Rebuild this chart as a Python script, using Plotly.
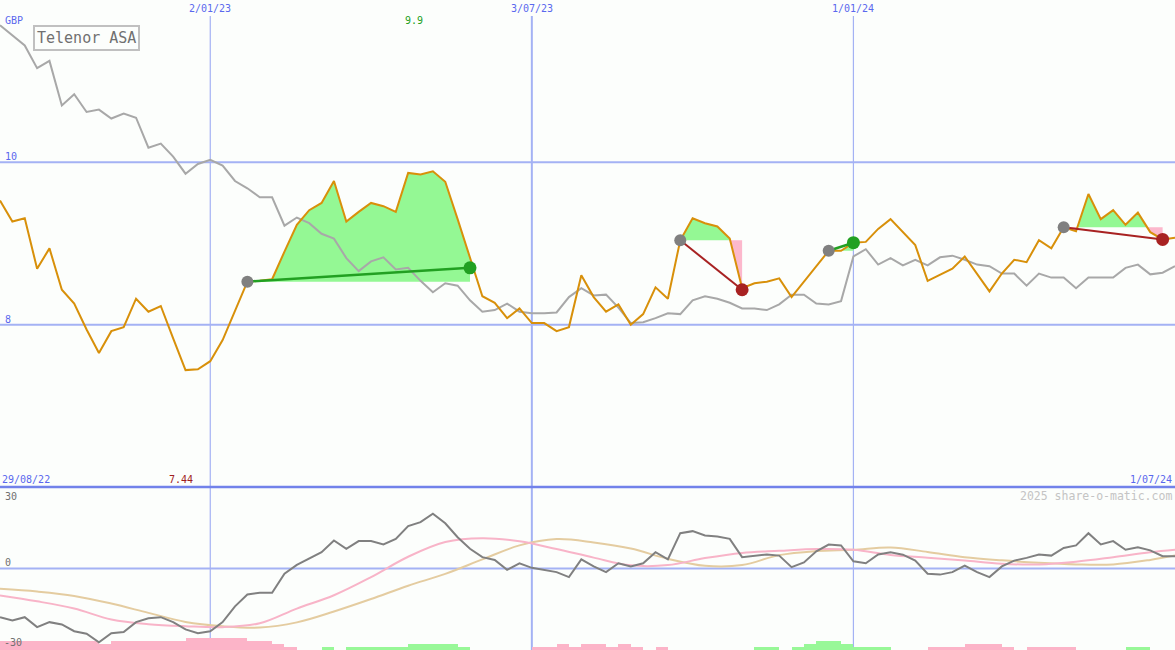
import pandas as pd
import plotly.graph_objects as go

# ---------------- data ----------------
start_date = "2022-09-05"
n_weeks = 96
dates = pd.date_range(start_date, periods=n_weeks, freq="7D")

price = [9.53, 9.27, 9.31, 8.69, 8.94, 8.43, 8.26, 7.94, 7.65, 7.92,
         7.97, 8.32, 8.16, 8.23, 7.83, 7.44, 7.45, 7.55, 7.81, 8.16,
         8.53, 8.54, 8.56, 8.90, 9.23, 9.41, 9.50, 9.77, 9.27, 9.39,
         9.50, 9.46, 9.39, 9.87, 9.85, 9.89, 9.76, 9.30, 8.82, 8.35,
         8.27, 8.08, 8.20, 8.02, 8.02, 7.92, 7.97, 8.61, 8.34, 8.16,
         8.25, 8.00, 8.13, 8.46, 8.32, 9.04, 9.31, 9.25, 9.21, 9.06,
         8.45, 8.51, 8.53, 8.57, 8.34, 8.53, 8.73, 8.91, 8.91, 9.01,
         9.02, 9.18, 9.30, 9.14, 8.98, 8.54, 8.62, 8.69, 8.84, 8.62,
         8.41, 8.63, 8.80, 8.77, 9.04, 8.94, 9.20, 9.15, 9.61, 9.30,
         9.41, 9.23, 9.38, 9.14, 9.05, 9.07]

relative = [11.69, 11.56, 11.44, 11.16, 11.25, 10.70, 10.84, 10.62, 10.65, 10.54,
            10.60, 10.55, 10.18, 10.23, 10.07, 9.86, 9.98, 10.03, 9.96, 9.77,
            9.68, 9.57, 9.57, 9.22, 9.32, 9.25, 9.12, 9.06, 8.82, 8.66,
            8.78, 8.83, 8.68, 8.70, 8.54, 8.40, 8.51, 8.48, 8.30, 8.16,
            8.18, 8.26, 8.16, 8.14, 8.14, 8.15, 8.34, 8.45, 8.36, 8.37,
            8.21, 8.02, 8.03, 8.08, 8.14, 8.13, 8.30, 8.35, 8.32, 8.27,
            8.20, 8.20, 8.18, 8.25, 8.37, 8.37, 8.26, 8.25, 8.29, 8.84,
            8.93, 8.74, 8.82, 8.73, 8.80, 8.73, 8.83, 8.85, 8.80, 8.74,
            8.72, 8.63, 8.63, 8.48, 8.63, 8.58, 8.58, 8.45, 8.58, 8.58,
            8.58, 8.70, 8.74, 8.62, 8.64, 8.72]

momentum = [-21.5, -23.0, -21.5, -25.9, -23.7, -24.7, -27.7, -28.8, -32.6, -28.6,
            -28.1, -23.7, -22.0, -21.5, -23.7, -26.9, -28.6, -27.7, -23.7, -16.7,
            -11.5, -10.7, -10.7, -2.3, 1.6, 4.3, 7.2, 12.4, 8.7, 12.1,
            12.1, 10.6, 13.1, 18.7, 20.5, 24.2, 20.0, 13.8, 8.7, 5.0,
            3.8, -0.6, 2.3, 0.3, -0.6, -1.6, -3.8, 4.0, 0.9, -1.6,
            2.3, 0.9, 2.3, 7.2, 4.0, 15.6, 16.5, 14.6, 14.1, 13.1,
            5.0, 5.7, 6.2, 5.7, 0.6, 2.7, 7.6, 10.6, 10.2, 3.2,
            2.3, 6.2, 7.2, 6.1, 3.5, -2.3, -2.7, -1.6, 1.3, -1.6,
            -3.8, 0.9, 3.5, 4.7, 6.2, 5.7, 9.1, 10.2, 15.6, 10.6,
            12.1, 8.3, 9.4, 8.0, 5.4, 5.4]

avg_weeks = [0, 3, 6, 9, 12, 15, 18, 21, 24, 27, 30, 33, 36, 39, 42, 45, 48,
             51, 54, 57, 60, 63, 66, 69, 72, 75, 78, 81, 84, 87, 90, 93, 95]
fast_avg = [-11.9, -14.5, -17.7, -22.5, -24.6, -25.5, -25.9, -24.2, -17.7, -11.8,
            -3.8, 5.2, 11.7, 13.4, 12.0, 8.6, 4.8, 1.4, 1.5, 4.6,
            6.9, 7.8, 8.6, 8.3, 6.0, 4.8, 3.5, 2.1, 1.8, 3.0,
            5.0, 7.2, 8.3]
slow_avg = [-9.0, -10.2, -12.1, -15.5, -19.6, -23.6, -25.5, -26.1, -23.8, -19.0,
            -13.5, -7.6, -2.4, 4.0, 10.2, 13.0, 11.5, 8.8, 4.3, 1.2,
            1.5, 5.9, 7.7, 8.3, 9.3, 7.3, 5.0, 3.6, 2.5, 1.8,
            1.8, 3.8, 5.7]

histogram = [-3, -3, -3, -3, -3, -3, -3, -3, -2, -3,
             -3, -3, -3, -3, -3, -4, -4, -4, -4, -4,
             -3, -3, -2, -1, 0, 0, 1, 0, 1, 1,
             1, 1, 1, 2, 2, 2, 2, 1, 0, 0,
             0, 0, 0, -1, -1, -2, -1, -2, -2, -1,
             -2, -1, 0, -1, 0, 0, 0, 0, 0, 0,
             0, 1, 1, 0, 1, 2, 3, 3, 2, 1,
             1, 1, 0, 0, 0, -1, -1, -1, -2, -2,
             -2, -1, 0, -1, -1, -1, -1, 0, 0, 0,
             0, 1, 1, 0, 0]

# trades: entry week, entry price, exit week, exit price
trade_entry_week = [20, 55, 67, 86]
trade_entry_price = [8.53, 9.04, 8.91, 9.20]
trade_exit_week = [38, 60, 69, 94]
trade_exit_price = [8.70, 8.43, 9.01, 9.05]

grid_dates = ["2023-01-02", "2023-07-03", "2024-01-01"]
grid_labels = ["2/01/23", "3/07/23", "1/01/24"]
price_grid = [10, 8]
title = "Telenor ASA"

# ---------------- styles ----------------
BG = "#fcfefc"
GRID = "#a4b2f4"
BLUE_TXT = "#5a68ee"
MONO = "DejaVu Sans Mono"
W, H = 1175, 650
split = 163 / 650  # lower panel share


def wdate(w):
    return pd.Timestamp(start_date) + pd.Timedelta(days=7 * w)


fig = go.Figure()

# trade fills
for e, lvl, x_ in zip(trade_entry_week, trade_entry_price, trade_exit_week):
    xs, ys = [], []
    for i in range(e, x_):
        ya, yb = price[i], price[i + 1]
        xs.append(i)
        ys.append(ya)
        if (ya - lvl) * (yb - lvl) < 0:
            t = (lvl - ya) / (yb - ya)
            xs.append(i + t)
            ys.append(lvl)
    xs.append(x_)
    ys.append(price[x_])
    xd = [wdate(v) for v in xs]
    up = [max(v, lvl) for v in ys]
    dn = [min(v, lvl) for v in ys]
    for series, col in ((up, "#94f894"), (dn, "#fcb8cc")):
        fig.add_trace(go.Scatter(x=xd, y=[lvl] * len(xd), mode="lines",
                                 line=dict(width=0), hoverinfo="skip",
                                 showlegend=False, yaxis="y"))
        fig.add_trace(go.Scatter(x=xd, y=series, mode="lines",
                                 line=dict(width=0), fill="tonexty",
                                 fillcolor=col, hoverinfo="skip",
                                 showlegend=False, yaxis="y"))

# relative line and price line
fig.add_trace(go.Scatter(x=dates, y=relative, mode="lines",
                         line=dict(color="#a8a8a8", width=2),
                         showlegend=False, yaxis="y"))
fig.add_trace(go.Scatter(x=dates, y=price, mode="lines",
                         line=dict(color="#d8900a", width=2),
                         showlegend=False, yaxis="y"))

# trade lines and markers
for e, ep, x_, xp in zip(trade_entry_week, trade_entry_price,
                         trade_exit_week, trade_exit_price):
    win = xp >= ep
    col = "#22a022" if win else "#a82222"
    fig.add_trace(go.Scatter(x=[wdate(e), wdate(x_)], y=[ep, xp], mode="lines",
                             line=dict(color=col, width=2.5 if win else 2),
                             showlegend=False, yaxis="y"))
    fig.add_trace(go.Scatter(x=[wdate(e)], y=[ep], mode="markers",
                             marker=dict(color="#808080", size=12),
                             showlegend=False, yaxis="y"))
    fig.add_trace(go.Scatter(x=[wdate(x_)], y=[xp], mode="markers",
                             marker=dict(color=col, size=13),
                             showlegend=False, yaxis="y"))

# histogram (base lower axis)
hist_x = [wdate(i + 0.5) for i in range(len(histogram))]
fig.add_trace(go.Bar(x=hist_x, y=[abs(v) for v in histogram],
                     width=7 * 86400000,
                     marker=dict(color=["#98f898" if v > 0 else "#fcb4c8" for v in histogram],
                                 line=dict(width=0)),
                     showlegend=False, yaxis="y2"))

# oscillator lines
fig.add_trace(go.Scatter(x=[wdate(w) for w in avg_weeks], y=slow_avg, mode="lines",
                         line=dict(color="#e4cca0", width=2, shape="spline"),
                         showlegend=False, yaxis="y3"))
fig.add_trace(go.Scatter(x=[wdate(w) for w in avg_weeks], y=fast_avg, mode="lines",
                         line=dict(color="#f8b4c8", width=2, shape="spline"),
                         showlegend=False, yaxis="y3"))
fig.add_trace(go.Scatter(x=dates, y=momentum, mode="lines",
                         line=dict(color="#808080", width=2),
                         showlegend=False, yaxis="y3"))

# ---------------- shapes ----------------
shapes = []
for d, wdt in zip(grid_dates, [1.2, 2, 1.2]):
    shapes.append(dict(type="line", xref="x", yref="paper", x0=d, x1=d,
                       y0=0, y1=1 - 16 / H, line=dict(color=GRID, width=wdt),
                       layer="below"))
for g in price_grid:
    shapes.append(dict(type="line", xref="paper", yref="y", x0=0, x1=1,
                       y0=g, y1=g, line=dict(color=GRID, width=2), layer="below"))
shapes.append(dict(type="line", xref="paper", yref="y3", x0=0, x1=1, y0=0, y1=0,
                   line=dict(color=GRID, width=2), layer="below"))
shapes.append(dict(type="line", xref="paper", yref="paper", x0=0, x1=1,
                   y0=split, y1=split, line=dict(color="#7282ea", width=2.5)))

# ---------------- annotations ----------------
anns = []


def ann(text, xpx, ypx, color, size=10, anchor="left", xref="paper", x=None, **kw):
    anns.append(dict(text=text, xref=xref, x=(xpx / W if x is None else x),
                     yref="paper", y=1 - ypx / H, xanchor=anchor, yanchor="middle",
                     showarrow=False, font=dict(family=MONO, size=size, color=color),
                     borderpad=0, **kw))


for d, lab in zip(grid_dates, grid_labels):
    ann(lab, 0, 8, BLUE_TXT, anchor="center", xref="x", x=d)
ann("GBP", 4, 21, BLUE_TXT)
ann("10", 4, 156, BLUE_TXT)
ann("8", 4, 319, BLUE_TXT)
ann("29/08/22", 1, 479, BLUE_TXT)
ann("1/07/24", 1173, 479, BLUE_TXT, anchor="right")
imax = price.index(max(price))
imin = price.index(min(price))
ann(f"{max(price):.1f}", 0, 21, "#22a022", anchor="center", xref="x",
    x=wdate(imax), xshift=-19)
ann(f"{min(price):.2f}", 0, 479, "#a02020", anchor="center", xref="x",
    x=wdate(imin), xshift=-5)
ann("2025 share-o-matic.com", 1173, 496, "#c4c4c4", size=11.5, anchor="right")
ann("30", 4, 496, "#707070")
ann("0", 4, 562, "#707070")
ann("-30", 3, 642, "#707070")
anns.append(dict(text=title, xref="paper", yref="paper", x=33 / W, y=1 - 25 / H,
                 xanchor="left", yanchor="top", showarrow=False,
                 font=dict(family=MONO, size=15, color="#707070"),
                 bordercolor="#c0c0c0", borderwidth=2, borderpad=2, bgcolor=BG))

axis_off = dict(showgrid=False, zeroline=False, showticklabels=False,
                showline=False, ticks="")
fig.update_layout(
    width=W, height=H, autosize=False,
    margin=dict(l=0, r=0, t=0, b=0, pad=0),
    paper_bgcolor=BG, plot_bgcolor=BG,
    showlegend=False, bargap=0,
    xaxis=dict(type="date", range=[dates[0], dates[-1]], **axis_off),
    yaxis=dict(domain=[split, 1], range=[6, 12], **axis_off),
    yaxis2=dict(domain=[0, split], range=[0, 163 / 3], **axis_off),
    yaxis3=dict(overlaying="y2", range=[-36, 36], **axis_off),
    shapes=shapes, annotations=anns,
)

fig.write_html("out.html", config={"displayModeBar": False},
               post_script="document.body.style.margin='0';"
                           "document.body.style.overflow='hidden';"
                           f"document.body.style.background='{BG}';")
